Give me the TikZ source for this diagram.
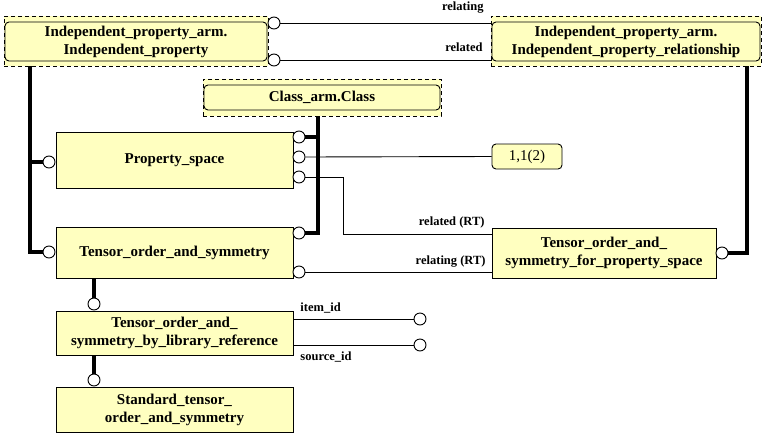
\documentclass[tikz,border=0pt]{standalone}
\usepackage{fontspec}
\setmainfont{Liberation Serif}
\usepackage{tikz}
\definecolor{boxfill}{RGB}{255,255,192}
\newcommand{\drawthick}{\draw[line width=4pt]}
\newcommand{\us}{\_}
\tikzset{
  entity/.style={draw, fill=boxfill, inner sep=0pt, align=center,
    font=\bfseries\fontsize{15}{18}\selectfont},
  mapbox/.style={draw, dash pattern=on 4pt off 3pt, fill=boxfill, inner sep=0pt},
  refbox/.style={entity, rounded corners=4pt},
  ring/.style={circle, draw, fill=white, inner sep=0pt, minimum size=12pt},
  role/.style={inner sep=0pt, font=\bfseries\fontsize{12.5}{14}\selectfont}
}

\begin{document}
\begin{tikzpicture}[x=1pt, y=-1pt, line width=0.9pt]
\useasboundingbox (0,0) rectangle (766,437);
% mapped entities
\node[mapbox, minimum width=264, minimum height=50] (ipout) at (136,41) {};
\node[refbox, minimum width=262, minimum height=39] (ip) at (136,41.5)
  {Independent\us property\us arm.\\Independent\us property};
\node[mapbox, minimum width=270, minimum height=50] (iprout) at (626,41) {};
\node[refbox, minimum width=268, minimum height=39] (ipr) at (626,41.5)
  {Independent\us property\us arm.\\Independent\us property\us relationship};
\node[mapbox, minimum width=238, minimum height=37] (clsout) at (322,97.5) {};
\node[refbox, minimum width=236, minimum height=25] (cls) at (322,97.5) {Class\us arm.Class};
% entities
\node[entity, minimum width=237, minimum height=56] (ps) at (174.5,160) {Property\us space};
\node[entity, minimum width=237, minimum height=51] (tos) at (174.5,252.5) {Tensor\us order\us and\us symmetry};
\node[entity, minimum width=224, minimum height=50] (tosps) at (604,253)
  {Tensor\us order\us and\us\\symmetry\us for\us property\us space};
\node[entity, minimum width=237, minimum height=44] (tosblr) at (174.5,333)
  {Tensor\us order\us and\us\\symmetry\us by\us library\us reference};
\node[entity, minimum width=237, minimum height=45] (stos) at (174.5,409.5)
  {Standard\us tensor\us\\order\us and\us symmetry};
\node[refbox, font=\fontsize{15}{18}\selectfont, minimum width=70, minimum height=25] (rng) at (527,156.5) {1,1(2)};
% rings
\node[ring] (ipA) at (274,23) {};
\node[ring] (ipB) at (274,60) {};
\node[ring] (psL) at (49,162) {};
\node[ring] (tosL) at (49,252) {};
\node[ring] (psR1) at (299,137) {};
\node[ring] (psR2) at (299,157) {};
\node[ring] (psR3) at (299,177) {};
\node[ring] (tosR1) at (299,233) {};
\node[ring] (tosR2) at (299,272) {};
\node[ring] (tospsR) at (722,253) {};
\node[ring] (tosblrT) at (94,304) {};
\node[ring] (stosT) at (94,380) {};
\node[ring] (itemC) at (420,319) {};
\node[ring] (srcC) at (420,345) {};
% subtype lines
\coordinate (ipfoot) at (30,66);
\coordinate (clsfoot) at (318,116);
\coordinate (iprfoot) at (747,66);
\coordinate (relin) at (492,234);
\drawthick (ipfoot) |- (tosL.west);
\drawthick (ipfoot |- psL) -- (psL.west);
\drawthick (clsfoot) |- (tosR1.east);
\drawthick (clsfoot |- psR1) -- (psR1.east);
\drawthick (tospsR.east) -| (iprfoot);
\drawthick (tos.south -| tosblrT) -- (tosblrT.north);
\drawthick (tosblr.south -| stosT) -- (stosT.north);
% attributes
\draw (ipA.east) -- (ipA -| ipr.west);
\draw (ipB.east) -- (ipB -| ipr.west);
\draw (psR2.east) -- (rng.west);
\draw (psR3.east) -- ++(38,0) |- (relin);
\draw (tosR2.east) -- (tosR2 -| tosps.west);
\draw (tosblr.east |- itemC) -- (itemC.west);
\draw (tosblr.east |- srcC) -- (srcC.west);
% role labels
\node[role, anchor=east] (lrelating) at (484,8) {relating};
\node[role, anchor=east] (lrelated) at (483,47) {related};
\node[role, anchor=east] (lrelrt) at (485,222) {related (RT)};
\node[role, anchor=east] (lrelgrt) at (486,262) {relating (RT)};
\node[role, anchor=west] (litem) at (300,308) {item\us id};
\node[role, anchor=west] (lsrc) at (300,357) {source\us id};
\end{tikzpicture}
\end{document}
